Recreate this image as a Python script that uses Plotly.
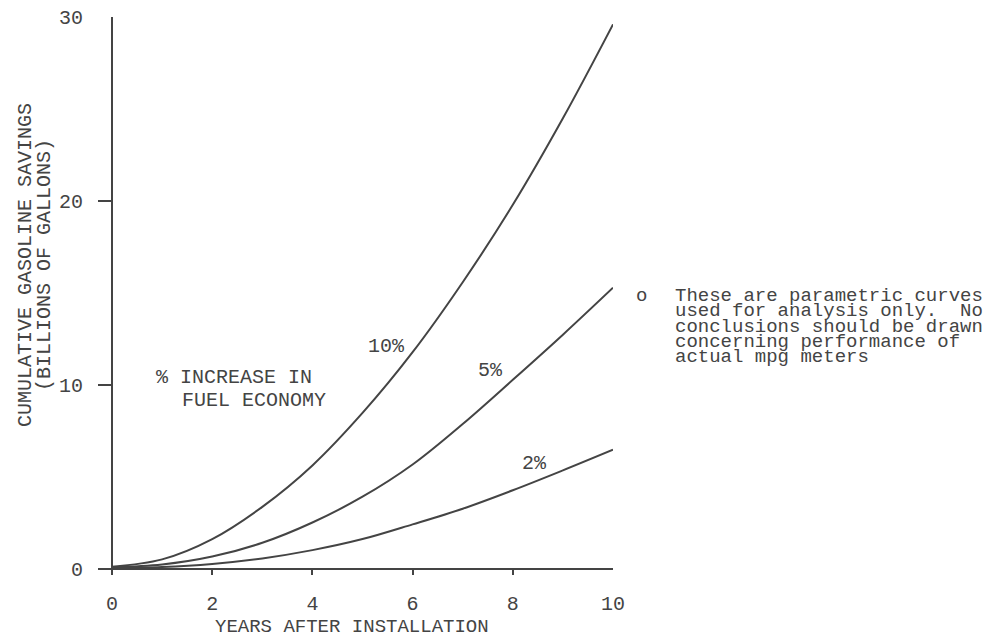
import plotly.graph_objects as go

years = [0, 1, 2, 3, 4, 5, 6, 7, 8, 9, 10]
savings_10 = [0.15, 0.55, 1.65, 3.4, 5.65, 8.5, 11.8, 15.6, 19.8, 24.5, 29.6]
savings_5 = [0.12, 0.27, 0.7, 1.45, 2.55, 3.95, 5.7, 7.9, 10.3, 12.75, 15.3]
savings_2 = [0.1, 0.14, 0.3, 0.6, 1.05, 1.65, 2.45, 3.3, 4.3, 5.38, 6.5]
series_labels = ["10%", "5%", "2%"]
x_ticks = [0, 2, 4, 6, 8, 10]
y_ticks = [0, 10, 20, 30]

INK = "#444444"
FONT = "Liberation Mono"
FS = 20

fig = go.Figure()
for vals in (savings_10, savings_5, savings_2):
    fig.add_trace(go.Scatter(x=years, y=vals, mode="lines",
                             line=dict(color=INK, width=2, shape="spline", smoothing=1.0),
                             showlegend=False, hoverinfo="skip"))

ann = []
def txt(x, y, s, xanchor="center", xref="x", yref="y", angle=0, size=FS):
    ann.append(dict(x=x, y=y, xref=xref, yref=yref, text=s, showarrow=False,
                    xanchor=xanchor, yanchor="middle", textangle=angle,
                    font=dict(family=FONT, size=size, color=INK)))

# curve labels
txt(5.48, 12.1, series_labels[0])
txt(7.56, 10.8, series_labels[1])
txt(8.44, 5.78, series_labels[2])
# legend-like note
txt(0.84, 10.4, "% INCREASE IN", xanchor="left")
txt(1.36, 9.2, "FUEL ECONOMY", xanchor="left")
# side note (paper coordinates)
txt(1.056, 0.5, "o", xref="paper", yref="paper", size=19)
note_lines = ["These are parametric curves",
              "used for analysis only.&nbsp; No",
              "conclusions should be drawn",
              "concerning performance of",
              "actual mpg meters"]
for i, line in enumerate(note_lines):
    txt(1.1165, 0.5 - i * 0.0275, line, xanchor="left", xref="paper", yref="paper", size=19)
# axis titles
txt(0.4932, -0.093, "YEARS AFTER INSTALLATION", xref="paper", yref="paper", size=19)
txt(-0.1398, 0.5556, "CUMULATIVE GASOLINE SAVINGS", angle=-90, xref="paper", yref="paper")
txt(-0.1029, 0.5556, "(BILLIONS OF GALLONS)", angle=-90, xref="paper", yref="paper")

fig.update_layout(
    width=995, height=631,
    margin=dict(l=90, r=390, t=9, b=64),
    paper_bgcolor="white", plot_bgcolor="white",
    annotations=ann,
    xaxis=dict(range=[-0.28, 10], tickvals=x_ticks, ticks="inside", ticklen=6,
               tickwidth=1.5, tickcolor=INK, showgrid=False, showline=False,
               zeroline=True, zerolinecolor=INK, zerolinewidth=2,
               ticklabelstandoff=14, automargin=False, ticklabeloverflow="allow",
               tickfont=dict(family=FONT, size=FS, color=INK)),
    yaxis=dict(range=[-0.3, 30], tickvals=y_ticks, ticks="inside", ticklen=13,
               tickwidth=1.5, tickcolor=INK, showgrid=False, showline=False,
               zeroline=True, zerolinecolor=INK, zerolinewidth=2,
               ticklabelstandoff=14, automargin=False, ticklabeloverflow="allow",
               tickfont=dict(family=FONT, size=FS, color=INK)),
)

fig.write_html("out.html")
